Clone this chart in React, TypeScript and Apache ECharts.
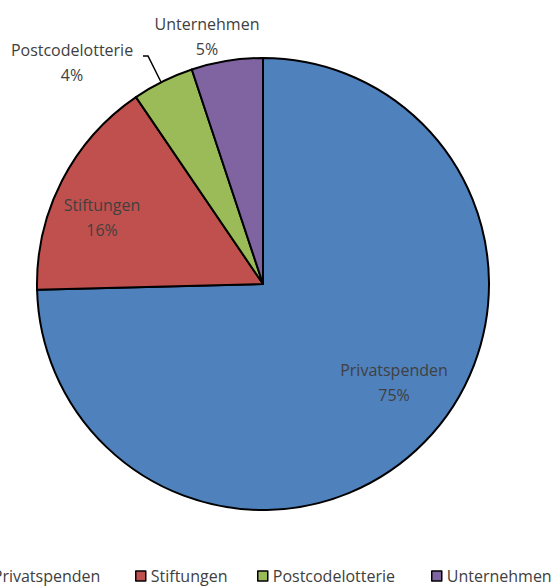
import React, { useEffect, useRef } from "react";
import * as echarts from "echarts";

const categories = ["Privatspenden", "Stiftungen", "Postcodelotterie", "Unternehmen"];
const values = [74.6, 15.9, 4.4, 5.1];
const colors = ["#4F81BD", "#C0504D", "#9BBB59", "#8064A2"];

// label layout (centre of each two-line label)
const labelPos = [
  [394, 382],
  [102, 217],
  [72, 62],
  [207, 36],
];
const legendLeft = [-23, 135, 257, 431];

export default function App() {
  const ref = useRef<HTMLDivElement>(null);
  useEffect(() => {
    if (!ref.current) return;
    const chart = echarts.init(ref.current, null, { renderer: "svg" });
    const font = "'Open Sans', sans-serif";
    chart.setOption({
      animation: false,
      backgroundColor: "#ffffff",
      legend: categories.map((c, i) => ({
        data: [c],
        left: legendLeft[i],
        top: 568,
        padding: 0,
        itemWidth: 10,
        itemHeight: 10,
        icon: "rect",
        itemStyle: { borderColor: "#000", borderWidth: 1.5 },
        textStyle: { color: "#404040", fontSize: 16, fontFamily: font },
        selectedMode: false,
      })),
      series: [
        {
          type: "pie",
          center: [263, 284],
          radius: 226,
          startAngle: 90,
          clockwise: true,
          percentPrecision: 0,
          itemStyle: { borderColor: "#000", borderWidth: 2 },
          label: {
            show: true,
            position: "outside",
            formatter: "{b}\n{d}%",
            color: "#404040",
            fontSize: 16,
            fontFamily: font,
            lineHeight: 25,
            align: "center",
            overflow: "none",
          },
          labelLine: { show: true, lineStyle: { color: "#000", width: 1.5 } },
          labelLayout: (p: any) => {
            const i = p.dataIndex;
            const res: any = {
              x: labelPos[i][0],
              y: labelPos[i][1],
              align: "center",
              verticalAlign: "middle",
            };
            if (i === 2) {
              res.labelLinePoints = [
                [161, 82],
                [148, 56],
                [143, 56],
              ];
            }
            return res;
          },
          data: categories.map((c, i) => ({
            name: c,
            value: values[i],
            itemStyle: { color: colors[i] },
            labelLine: { show: i === 2 },
          })),
        },
      ],
    });
    return () => chart.dispose();
  }, []);
  return (
    <div
      ref={ref}
      style={{ position: "fixed", left: 0, top: 0, width: 551, height: 587 }}
    />
  );
}
